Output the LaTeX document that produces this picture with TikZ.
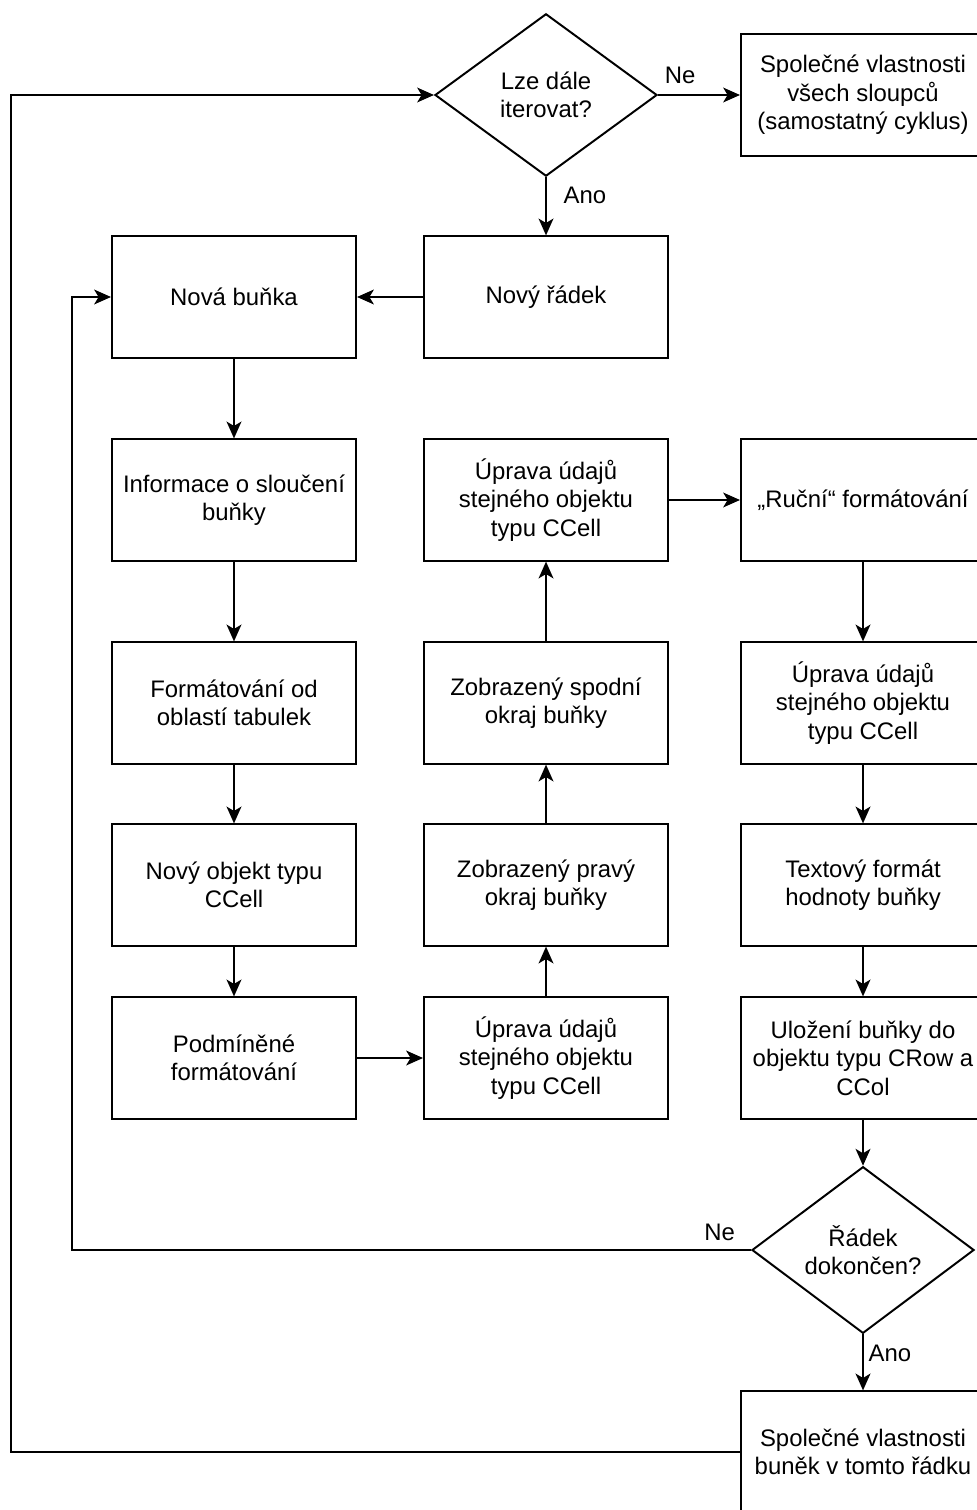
\documentclass[tikz,border=0pt]{standalone}
\usepackage{fontspec}
\setmainfont{Liberation Sans}
\usetikzlibrary{shapes.geometric,arrows.meta}

\begin{document}
\begin{tikzpicture}[x=0.025cm,y=-0.025cm,
	font=\fontsize{17}{20.3}\selectfont,
	krok/.style={draw,line width=1.4pt,minimum width=6.1cm,minimum height=3.03cm,align=center,inner sep=0},
	otazka/.style={draw,diamond,line width=1.4pt,minimum width=5.55cm,minimum height=4.06cm,align=center,inner sep=0},
	sipka/.style={line width=1.4pt,-{Stealth[length=0.42cm,width=0.37cm,inset=0.11cm]}}]
	\useasboundingbox (0,0) rectangle (977,1510);
	\node[otazka] (iter) at (546,95) {Lze dále\\iterovat?};
	\node[krok] (vsechSl) at (863,95) {Společné vlastnosti\\všech sloupců\\(samostatný cyklus)};
	\node[krok] (radek) at (546,297) {Nový řádek};
	\node[krok] (bunka) at (234,297) {Nová buňka};
	\node[krok] (slouceni) at (234,500) {Informace o sloučení\\buňky};
	\node[krok] (oblasti) at (234,703) {Formátování od\\oblastí tabulek};
	\node[krok] (objekt) at (234,885) {Nový objekt typu\\CCell};
	\node[krok] (podminene) at (234,1058) {Podmíněné\\formátování};
	\node[krok] (uprava1) at (546,1058) {Úprava údajů\\stejného objektu\\typu CCell};
	\node[krok] (pravy) at (546,885) {Zobrazený pravý\\okraj buňky};
	\node[krok] (spodni) at (546,703) {Zobrazený spodní\\okraj buňky};
	\node[krok] (uprava2) at (546,500) {Úprava údajů\\stejného objektu\\typu CCell};
	\node[krok] (rucni) at (863,500) {„Ruční“ formátování};
	\node[krok] (uprava3) at (863,703) {Úprava údajů\\stejného objektu\\typu CCell};
	\node[krok] (textovy) at (863,885) {Textový formát\\hodnoty buňky};
	\node[krok] (ulozeni) at (863,1058) {Uložení buňky do\\objektu typu CRow a\\CCol};
	\node[otazka] (hotovo) at (863,1250) {Řádek\\dokončen?};
	\node[krok] (radekVl) at (863,1452) {Společné vlastnosti\\buněk v tomto řádku};
	\coordinate (smyckaB) at (72,1250);
	\coordinate (smyckaR) at (11,1452);

	\draw[sipka] (iter.east) -- node[pos=0.27,above=1.5mm]{Ne} (vsechSl.west);
	\draw[sipka] (iter.south) -- node[pos=0.32,right=3mm]{Ano} (radek.north);
	\draw[sipka] (radek.west) -- (bunka.east);
	\draw[sipka] (bunka) -- (slouceni);
	\draw[sipka] (slouceni) -- (oblasti);
	\draw[sipka] (oblasti) -- (objekt);
	\draw[sipka] (objekt) -- (podminene);
	\draw[sipka] (podminene) -- (uprava1);
	\draw[sipka] (uprava1) -- (pravy);
	\draw[sipka] (pravy) -- (spodni);
	\draw[sipka] (spodni) -- (uprava2);
	\draw[sipka] (uprava2) -- (rucni);
	\draw[sipka] (rucni) -- (uprava3);
	\draw[sipka] (uprava3) -- (textovy);
	\draw[sipka] (textovy) -- (ulozeni);
	\draw[sipka] (ulozeni) -- (hotovo);
	\draw[sipka] (hotovo.south) -- node[pos=0.34,right]{Ano} (radekVl.north);
	\draw[sipka] (hotovo.west) -- node[pos=0.046,above=1mm]{Ne} (smyckaB) |- (bunka.west);
	\draw[sipka] (radekVl.west) -- (smyckaR) |- (iter.west);
\end{tikzpicture}
\end{document}
